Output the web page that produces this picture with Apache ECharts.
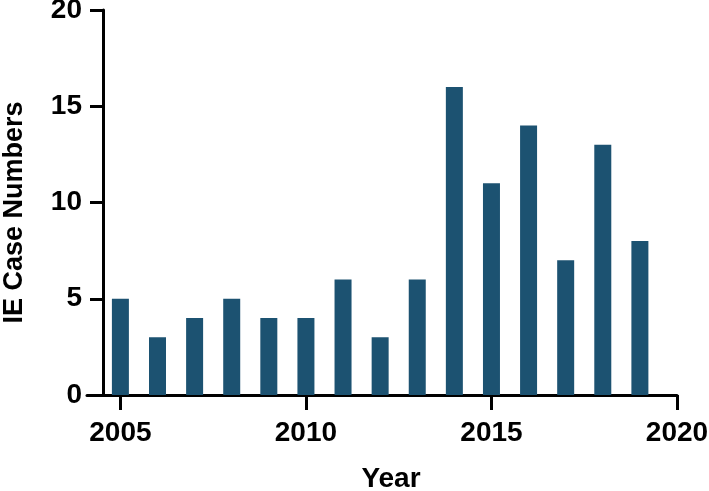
<!DOCTYPE html>
<html>
<head>
<meta charset="utf-8">
<script src="https://cdn.jsdelivr.net/npm/echarts@6/dist/echarts.min.js"></script>
<style>
html,body{margin:0;padding:0;background:#fff;}
#chart{width:709px;height:491px;}
</style>
</head>
<body>
<div id="chart"></div>
<script>
const years = [2005,2006,2007,2008,2009,2010,2011,2012,2013,2014,2015,2016,2017,2018,2019];
const cases = [5,3,4,5,4,4,6,3,6,16,11,14,7,13,8];
const xTicks = [2005,2010,2015,2020];
const yTicks = [0,5,10,15,20];

const font = "'Liberation Sans', Arial, Helvetica, sans-serif";
const chart = echarts.init(document.getElementById('chart'), null, {renderer:'canvas'});
chart.setOption({
  animation:false,
  grid:{left:87,right:32,top:10,bottom:96,containLabel:false,outerBoundsMode:'none'},
  xAxis:{
    type:'value', min:2004.1, max:2020,
    name:'Year', nameLocation:'middle', nameGap:70,
    nameTextStyle:{fontFamily:font,fontWeight:'bold',fontSize:28,color:'#000',padding:[0,0,0,18]},
    axisLine:{show:true,lineStyle:{color:'#000',width:3}},
    axisTick:{show:true,length:15,lineStyle:{color:'#000',width:3},customValues:xTicks},
    axisLabel:{fontFamily:font,fontWeight:'bold',fontSize:28,color:'#000',margin:24,customValues:xTicks,
      formatter:v=>String(v)},
    splitLine:{show:false}
  },
  yAxis:{
    type:'value', min:0, max:20, interval:5, offset:-16,
    name:'IE Case Numbers', nameLocation:'middle', nameGap:75,
    nameTextStyle:{fontFamily:font,fontWeight:'bold',fontSize:27,color:'#000',padding:[0,20,0,0]},
    axisLine:{show:true,lineStyle:{color:'#000',width:3}},
    axisTick:{show:true,length:13,lineStyle:{color:'#000',width:3},customValues:yTicks},
    axisLabel:{fontFamily:font,fontWeight:'bold',fontSize:28,color:'#000',margin:21,customValues:yTicks},
    splitLine:{show:false}
  },
  series:[{
    type:'bar',
    data:years.map((y,i)=>[y,cases[i]]),
    barWidth:17,
    itemStyle:{color:'#1c5271'}
  }]
});
</script>
</body>
</html>
